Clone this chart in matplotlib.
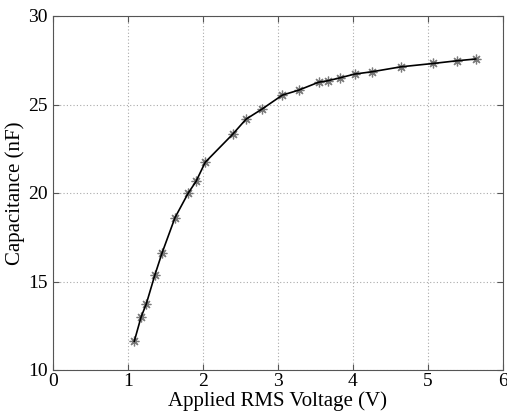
import numpy as np
import matplotlib
matplotlib.use('Agg')
import matplotlib.pyplot as plt

# ── Data ──────────────────────────────────────────────────────────────
voltage = [1.081, 1.171, 1.242, 1.354, 1.451, 1.625, 1.802, 1.905, 2.029,
           2.395, 2.573, 2.786, 3.058, 3.276, 3.543, 3.663, 3.832, 4.024,
           4.255, 4.642, 5.074, 5.386, 5.639]
capacitance = [11.62, 12.98, 13.74, 15.34, 16.60, 18.61, 20.00, 20.65, 21.74,
               23.32, 24.17, 24.74, 25.53, 25.81, 26.26, 26.34, 26.51, 26.72,
               26.85, 27.13, 27.32, 27.47, 27.57]
x_ticks = [0, 1, 2, 3, 4, 5, 6]
y_ticks = [10, 15, 20, 25, 30]

plt.rcParams['font.family'] = ['Liberation Serif', 'DejaVu Serif']

fig = plt.figure(figsize=(5.07, 4.18), dpi=100)
ax = fig.add_axes([53.3 / 507, 1 - 370 / 418, (502.7 - 53.3) / 507, (370 - 16) / 418])

# MATLAB-style asterisk markers, grey, under the black line
ax.plot(voltage, capacitance, color='#7a7a7a', linestyle='none', marker=(8, 2, 0),
        markersize=7, markeredgewidth=0.9)
ax.plot(voltage, capacitance, color='black', linewidth=1.2)

ax.set_xlim(0, 6)
ax.set_ylim(10, 30)
ax.set_xticks(x_ticks)
ax.set_yticks(y_ticks)
ax.grid(True, linestyle=(0, (1, 2)), color='#aaaaaa', linewidth=0.8)
ax.tick_params(direction='in', top=True, right=True, labelsize=14, length=4,
               color='#555555', pad=3)
ax.tick_params(axis='y', pad=4)
ax.tick_params(axis='x', pad=2)
for s in ax.spines.values():
    s.set_color('#555555')

ax.set_xlabel('Applied RMS Voltage (V)', fontsize=15, labelpad=1)
ax.set_ylabel('Capacitance (nF)', fontsize=15, labelpad=2)

plt.savefig('out.png', dpi=100)
